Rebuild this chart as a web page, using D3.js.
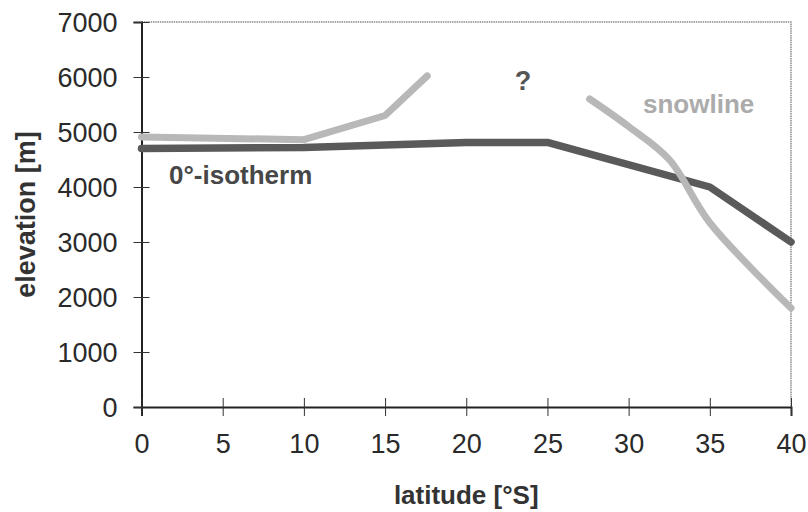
<!DOCTYPE html>
<html>
<head>
<meta charset="utf-8">
<script src="https://cdn.jsdelivr.net/npm/d3@7"></script>
<style>
  body { margin: 0; background: #fff; }
  text { font-family: "Liberation Sans", Arial, Helvetica, sans-serif; }
</style>
</head>
<body>
<div id="chart"></div>
<script>
// latitude [°S] vs elevation [m]
var isoLat  = [0, 10, 20, 25, 35, 40];
var isoElev = [4700, 4720, 4810, 4810, 4000, 3000];

// snowline is drawn in two pieces, the gap is the "?"
var snowLatA  = [0, 10, 15, 17.6];
var snowElevA = [4910, 4860, 5300, 6020];
var snowLatB  = [27.6, 30, 32.5, 35, 40];
var snowElevB = [5600, 5100, 4500, 3350, 1800];

var xTicks = [0, 5, 10, 15, 20, 25, 30, 35, 40];
var yTicks = [0, 1000, 2000, 3000, 4000, 5000, 6000, 7000];

var width = 808, height = 512;
var margin = {top: 22, right: 17, bottom: 105, left: 141.5};

var svg = d3.select('#chart')
  .append('svg')
  .attr('width', width)
  .attr('height', height);

var x = d3.scaleLinear().domain([0, 40]).range([margin.left, width - margin.right]);
var y = d3.scaleLinear().domain([0, 7000]).range([height - margin.bottom, margin.top]);

// light frame on top and right
svg.append('path')
  .attr('d', 'M' + x(0) + ',' + y(7000) + 'H' + x(40) + 'V' + y(0))
  .attr('fill', 'none')
  .attr('stroke', '#8a8a8a')
  .attr('stroke-width', 1.5)
  .attr('stroke-dasharray', '1.5,0.8');

// axes, ticks cross the axis line
var yAxis = svg.append('g')
  .attr('transform', 'translate(' + x(0) + ',0)')
  .call(d3.axisLeft(y).tickValues(yTicks).tickFormat(d3.format('d')).tickSize(8).tickPadding(16));
yAxis.selectAll('.tick line').attr('x2', 8).attr('x1', -8);

var xAxis = svg.append('g')
  .attr('transform', 'translate(0,' + y(0) + ')')
  .call(d3.axisBottom(x).tickValues(xTicks).tickFormat(d3.format('d')).tickSize(9).tickPadding(18));
xAxis.selectAll('.tick line').attr('y1', -9).attr('y2', 9);

[yAxis, xAxis].forEach(function(a) {
  a.select('.domain').attr('stroke', '#222').attr('stroke-width', 2);
  a.selectAll('.tick line').attr('stroke', '#333').attr('stroke-width', 1);
  a.selectAll('.tick text')
    .attr('font-size', 27)
    .attr('fill', '#2a2a2a')
    .style('font-family', '"Liberation Sans", Arial, sans-serif');
});
yAxis.selectAll('.tick text').attr('dy', '0.36em');
xAxis.selectAll('.tick text').attr('dy', '0.72em');

var line = d3.line()
  .x(function(d) { return x(d[0]); })
  .y(function(d) { return y(d[1]); });

var smooth = d3.line()
  .x(function(d) { return x(d[0]); })
  .y(function(d) { return y(d[1]); })
  .curve(d3.curveCatmullRom.alpha(0.5));

function pairs(a, b) { return a.map(function(v, i) { return [v, b[i]]; }); }

svg.append('path')
  .attr('d', line(pairs(snowLatA, snowElevA)))
  .attr('fill', 'none')
  .attr('stroke', '#b8b8b8')
  .attr('stroke-width', 7)
  .attr('stroke-linejoin', 'round')
  .attr('stroke-linecap', 'round');

svg.append('path')
  .attr('d', line(pairs(isoLat, isoElev)))
  .attr('fill', 'none')
  .attr('stroke', '#5a5a5a')
  .attr('stroke-width', 7.5)
  .attr('stroke-linejoin', 'round')
  .attr('stroke-linecap', 'round');

svg.append('path')
  .attr('d', smooth(pairs(snowLatB, snowElevB)))
  .attr('fill', 'none')
  .attr('stroke', '#b8b8b8')
  .attr('stroke-width', 7)
  .attr('stroke-linejoin', 'round')
  .attr('stroke-linecap', 'round');

// labels
svg.append('text')
  .attr('x', 169).attr('y', 183.5)
  .attr('font-size', 26).attr('font-weight', 'bold')
  .attr('fill', '#474747')
  .text('0°-isotherm');

svg.append('text')
  .attr('x', 643).attr('y', 113)
  .attr('font-size', 26).attr('font-weight', 'bold')
  .attr('fill', '#ababab')
  .text('snowline');

svg.append('text')
  .attr('x', 523).attr('y', 90)
  .attr('text-anchor', 'middle')
  .attr('font-size', 27).attr('font-weight', 'bold')
  .attr('fill', '#555')
  .text('?');

svg.append('text')
  .attr('x', (x(0) + x(40)) / 2).attr('y', 504)
  .attr('text-anchor', 'middle')
  .attr('font-size', 26).attr('font-weight', 'bold')
  .attr('fill', '#333')
  .text('latitude [°S]');

svg.append('text')
  .attr('transform', 'translate(35,' + ((y(0) + y(7000)) / 2) + ') rotate(-90)')
  .attr('text-anchor', 'middle')
  .attr('font-size', 27).attr('font-weight', 'bold')
  .attr('fill', '#333')
  .text('elevation [m]');
</script>
</body>
</html>
